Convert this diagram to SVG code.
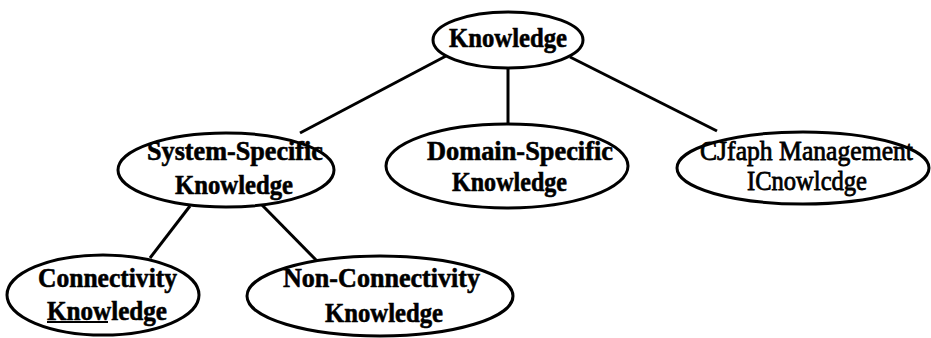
<svg xmlns="http://www.w3.org/2000/svg" width="931" height="338" viewBox="0 0 931 338">
<style>
.n ellipse{fill:#fff;stroke:#000;stroke-width:3}
.c line{stroke:#000;stroke-width:3}
text{font-family:"Liberation Serif","Times New Roman",serif;font-size:28px;font-weight:bold;fill:#000;stroke:#000;stroke-width:0.6}
.r{font-weight:normal;stroke-width:0.8}
</style>
<rect width="931" height="338" fill="#fff"/>
<g id="connectors" class="c">
<line x1="446" y1="56" x2="300" y2="133"/>
<line x1="508" y1="68" x2="508" y2="124"/>
<line x1="570" y1="57" x2="717" y2="131"/>
<line x1="190" y1="206" x2="150" y2="258"/>
<line x1="262" y1="205" x2="318" y2="262"/>
</g>
<g id="knowledge" class="n">
<ellipse cx="508" cy="40" rx="75" ry="28"/>
<text x="449" y="47" textLength="118" lengthAdjust="spacingAndGlyphs">Knowledge</text>
</g>
<g id="system-specific" class="n">
<ellipse cx="226" cy="170" rx="108" ry="37"/>
<text x="147" y="160" textLength="176" lengthAdjust="spacingAndGlyphs">System-Specific</text>
<text x="175" y="194" textLength="118" lengthAdjust="spacingAndGlyphs">Knowledge</text>
</g>
<g id="domain-specific" class="n">
<ellipse cx="507" cy="166" rx="121" ry="42"/>
<text x="427" y="160" textLength="186" lengthAdjust="spacingAndGlyphs">Domain-Specific</text>
<text x="452" y="191" textLength="115" lengthAdjust="spacingAndGlyphs">Knowledge</text>
</g>
<g id="graph-management" class="n">
<ellipse cx="803" cy="168" rx="126" ry="36"/>
<text class="r" x="700" y="160" textLength="213" lengthAdjust="spacingAndGlyphs">CJfaph Management</text>
<text class="r" x="747" y="190" textLength="120" lengthAdjust="spacingAndGlyphs">ICnowlcdge</text>
</g>
<g id="connectivity" class="n">
<ellipse cx="103" cy="295" rx="96" ry="40"/>
<text x="38" y="287" textLength="139" lengthAdjust="spacingAndGlyphs">Connectivity</text>
<text x="47" y="320" textLength="120" lengthAdjust="spacingAndGlyphs">Knowledge</text>
<line x1="47" y1="322" x2="108" y2="322" stroke="#000" stroke-width="2"/>
</g>
<g id="non-connectivity" class="n">
<ellipse cx="380" cy="296" rx="133" ry="40"/>
<text x="283" y="287" textLength="197" lengthAdjust="spacingAndGlyphs">Non-Connectivity</text>
<text x="325" y="322" textLength="118" lengthAdjust="spacingAndGlyphs">Knowledge</text>
</g>
</svg>
